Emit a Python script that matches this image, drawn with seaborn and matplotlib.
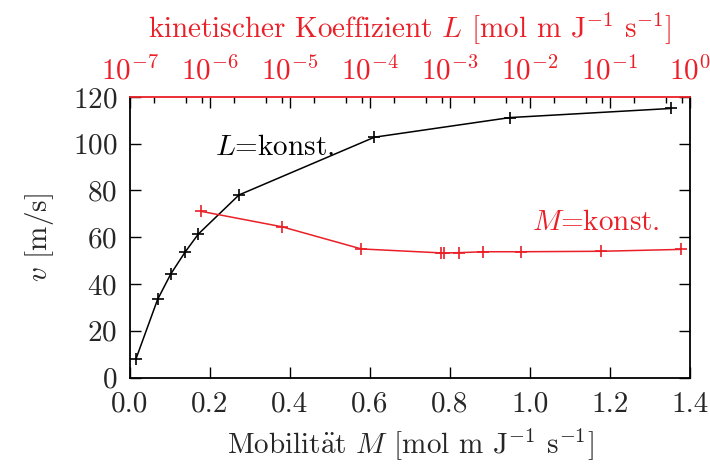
import matplotlib
matplotlib.use("Agg")
import matplotlib.pyplot as plt
import matplotlib.ticker as mticker
import numpy as np
import pandas as pd
import seaborn as sns

# L = konst.: velocity against mobility M
mobility_M = [0.015, 0.069, 0.102, 0.1375, 0.171, 0.2725, 0.611, 0.95, 1.3525]
velocity_L_const = [8.0, 33.4, 44.3, 53.6, 61.4, 78.1, 102.8, 111.2, 115.1]

# M = konst.: velocity against kinetic coefficient L
kin_coeff_L = [7.7e-7, 7.9e-6, 7.8e-5, 7.8e-4, 8.5e-4, 1.28e-3, 2.6e-3, 7.7e-3, 7.7e-2, 7.7e-1]
velocity_M_const = [71.1, 64.5, 55.0, 53.3, 53.3, 53.4, 53.8, 53.8, 54.0, 54.8]

RED = "#ea1f27"
FS = 21

sns.set_style("ticks")
plt.rcParams["font.family"] = ["cmr10", "DejaVu Serif"]
plt.rcParams["mathtext.fontset"] = "cm"
plt.rcParams["axes.unicode_minus"] = False
plt.rcParams["axes.formatter.use_mathtext"] = True

fig = plt.figure(figsize=(7.1, 4.73), dpi=100)
ax = fig.add_axes([130 / 710, 1 - 377.5 / 473, 560 / 710, 280.5 / 473])

df_L = pd.DataFrame({"M": mobility_M, "v": velocity_L_const})
sns.lineplot(data=df_L, x="M", y="v", ax=ax, color="black", linewidth=1.1,
             marker="+", markersize=9, markeredgewidth=1.2, markeredgecolor="black")

ax.set_xlim(0, 1.4)
ax.set_ylim(0, 120)
ax.xaxis.set_major_locator(mticker.MultipleLocator(0.2))
ax.xaxis.set_major_formatter(mticker.FormatStrFormatter("%.1f"))
ax.yaxis.set_major_locator(mticker.MultipleLocator(20))
ax.tick_params(axis="both", direction="in", length=8, width=1.0, labelsize=FS,
               color="black")
ax.tick_params(axis="x", pad=10)
ax.tick_params(axis="y", pad=9, right=True)
ax.set_xlabel(r"Mobilit$\mathrm{\ddot{a}}$t $M$ [mol m J$^{-1}$ s$^{-1}$]",
              fontsize=FS, labelpad=6)
ax.set_ylabel(r"$v$ [m/s]", fontsize=FS, labelpad=12)
for side in ["left", "right", "bottom"]:
    ax.spines[side].set_linewidth(1.3)
    ax.spines[side].set_color("black")
ax.spines["top"].set_visible(False)

ax2 = ax.twiny()
df_M = pd.DataFrame({"L": kin_coeff_L, "v": velocity_M_const})
sns.lineplot(data=df_M, x="L", y="v", ax=ax2, color=RED, linewidth=1.1,
             marker="+", markersize=9, markeredgewidth=1.2, markeredgecolor=RED)
ax2.set_xscale("log")
ax2.set_xlim(1e-7, 1)
ax2.set_ylim(0, 120)
ax2.xaxis.set_major_locator(mticker.LogLocator(base=10, numticks=20))
ax2.xaxis.set_minor_locator(mticker.LogLocator(base=10, subs=(2, 5, 8), numticks=20))
ax2.xaxis.set_minor_formatter(mticker.NullFormatter())
ax2.tick_params(axis="x", which="major", direction="in", length=8, width=1.0,
                labelsize=FS, labelcolor=RED, color="black", pad=8)
ax2.tick_params(axis="x", which="minor", direction="in", length=4, width=1.0,
                color="black")
ax2.set_xlabel(r"kinetischer Koeffizient $L$ [mol m J$^{-1}$ s$^{-1}$]",
               fontsize=FS, color=RED, labelpad=14)
ax2.spines["top"].set_color(RED)
ax2.spines["top"].set_linewidth(1.3)
for side in ["left", "right", "bottom"]:
    ax2.spines[side].set_visible(False)

ax.text(0.213, 98.3, r"$L$=konst.", fontsize=FS, color="black", ha="left", va="center")
ax.text(1.325, 66.1, r"$M$=konst.", fontsize=FS, color=RED, ha="right", va="center")

fig.savefig("out.png", dpi=100)
